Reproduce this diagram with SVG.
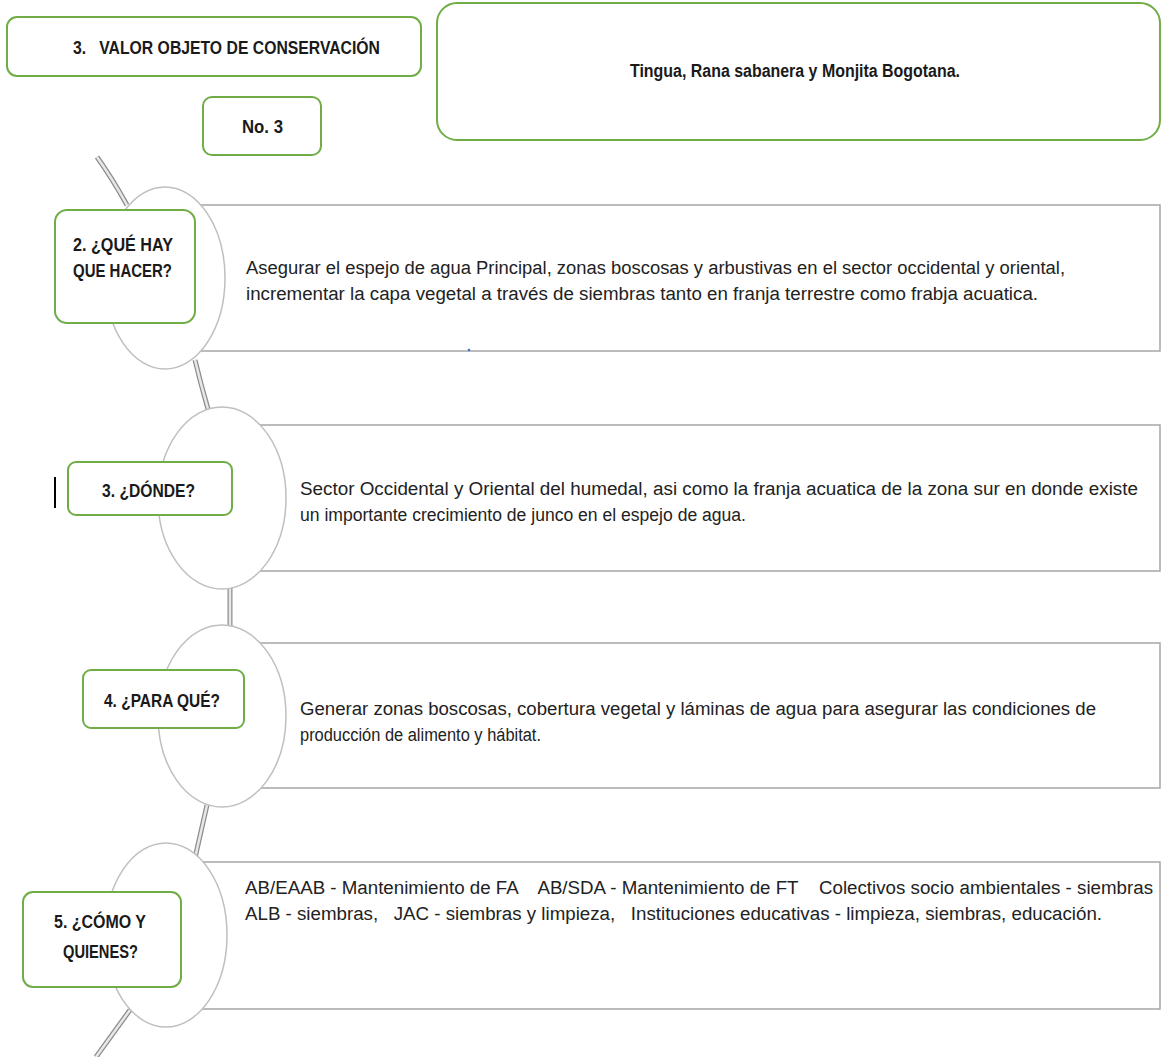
<svg xmlns="http://www.w3.org/2000/svg" width="1163" height="1057" viewBox="0 0 1163 1057">
<defs>
<style>
.gbox{fill:#fff;stroke:#70AD47;stroke-width:2}
.rbox{fill:#fff;stroke:#A6A6A6;stroke-width:1.5}
.ell{fill:#fff;stroke:#BFBFBF;stroke-width:1.5}
.conO{fill:none;stroke:#8C8C8C;stroke-width:5}
.conI{fill:none;stroke:#E8E8E8;stroke-width:2.5}
.h{font-family:"Liberation Sans",Arial,sans-serif;font-weight:bold;font-size:18px;fill:#1a1a1a}
.t{font-family:"Liberation Sans",Arial,sans-serif;font-size:18px;fill:#222;white-space:pre}
</style>
</defs>
<rect width="1163" height="1057" fill="#fff"/>

<g id="connectors">
<path class="conO" d="M97,157 Q112,178 127,205"/>
<path class="conI" d="M97,157 Q112,178 127,205"/>
<path class="conO" d="M195,360 Q201,385 208,409"/>
<path class="conI" d="M195,360 Q201,385 208,409"/>
<path class="conO" d="M230,585 L230,627"/>
<path class="conI" d="M230,585 L230,627"/>
<path class="conO" d="M207,805 L195,858"/>
<path class="conI" d="M207,805 L195,858"/>
<path class="conO" d="M130,1010 L96,1057"/>
<path class="conI" d="M130,1010 L96,1057"/>
</g>

<g id="valor">
<rect class="gbox" x="7" y="17" width="414" height="59" rx="10"/>
<text class="h" x="73" y="54" textLength="307" lengthAdjust="spacingAndGlyphs" style="white-space:pre">3.   VALOR OBJETO DE CONSERVACIÓN</text>
</g>

<g id="numero">
<rect class="gbox" x="203" y="97" width="118" height="58" rx="9"/>
<text class="h" x="242" y="133" textLength="41" lengthAdjust="spacingAndGlyphs">No. 3</text>
</g>

<g id="especies">
<rect class="gbox" x="437" y="3" width="723" height="137" rx="20"/>
<text class="h" x="630" y="77" textLength="330" lengthAdjust="spacingAndGlyphs">Tingua, Rana sabanera y Monjita Bogotana.</text>
</g>

<g id="que-hacer">
<rect class="rbox" x="200" y="205" width="960" height="146"/>
<ellipse class="ell" cx="165" cy="278" rx="60" ry="91"/>
<rect class="gbox" x="55" y="210" width="140" height="113" rx="12"/>
<text class="h" x="73" y="251" textLength="100" lengthAdjust="spacingAndGlyphs">2. ¿QUÉ HAY</text>
<text class="h" x="73" y="277" textLength="99" lengthAdjust="spacingAndGlyphs">QUE HACER?</text>
<text class="t" x="246" y="274" textLength="819" lengthAdjust="spacingAndGlyphs">Asegurar el espejo de agua Principal, zonas boscosas y arbustivas en el sector occidental y oriental,</text>
<text class="t" x="246" y="300" textLength="792" lengthAdjust="spacingAndGlyphs">incrementar la capa vegetal a través de siembras tanto en franja terrestre como frabja acuatica.</text>
</g>

<circle cx="469" cy="350" r="1.3" fill="#4472C4"/>

<g id="donde">
<rect class="rbox" x="250" y="425" width="910" height="146"/>
<ellipse class="ell" cx="222" cy="498" rx="64" ry="91"/>
<rect class="gbox" x="68" y="462" width="164" height="53" rx="8"/>
<text class="h" x="102" y="497" textLength="93" lengthAdjust="spacingAndGlyphs">3. ¿DÓNDE?</text>
<rect x="54" y="477" width="2" height="31" fill="#000"/>
<text class="t" x="300" y="495" textLength="838" lengthAdjust="spacingAndGlyphs">Sector Occidental y Oriental del humedal, asi como la franja acuatica de la zona sur en donde existe</text>
<text class="t" x="300" y="521" textLength="446" lengthAdjust="spacingAndGlyphs">un importante crecimiento de junco en el espejo de agua.</text>
</g>

<g id="para-que">
<rect class="rbox" x="250" y="643" width="910" height="145"/>
<ellipse class="ell" cx="222" cy="716" rx="64" ry="91"/>
<rect class="gbox" x="83" y="670" width="161" height="58" rx="8"/>
<text class="h" x="104" y="707" textLength="116" lengthAdjust="spacingAndGlyphs">4. ¿PARA QUÉ?</text>
<text class="t" x="300" y="715" textLength="796" lengthAdjust="spacingAndGlyphs">Generar zonas boscosas, cobertura vegetal y láminas de agua para asegurar las condiciones de</text>
<text class="t" x="300" y="741" textLength="241" lengthAdjust="spacingAndGlyphs">producción de alimento y hábitat.</text>
</g>

<g id="como-quienes">
<rect class="rbox" x="200" y="862" width="960" height="147"/>
<ellipse class="ell" cx="166" cy="935" rx="61" ry="92"/>
<rect class="gbox" x="23" y="892" width="158" height="95" rx="10"/>
<text class="h" x="54" y="928" textLength="92" lengthAdjust="spacingAndGlyphs">5. ¿CÓMO Y</text>
<text class="h" x="63" y="958" textLength="75" lengthAdjust="spacingAndGlyphs">QUIENES?</text>
<text class="t" x="245" y="894" textLength="908" lengthAdjust="spacingAndGlyphs">AB/EAAB - Mantenimiento de FA    AB/SDA - Mantenimiento de FT    Colectivos socio ambientales - siembras</text>
<text class="t" x="245" y="920" textLength="857" lengthAdjust="spacingAndGlyphs">ALB - siembras,   JAC - siembras y limpieza,   Instituciones educativas - limpieza, siembras, educación.</text>
</g>
</svg>
